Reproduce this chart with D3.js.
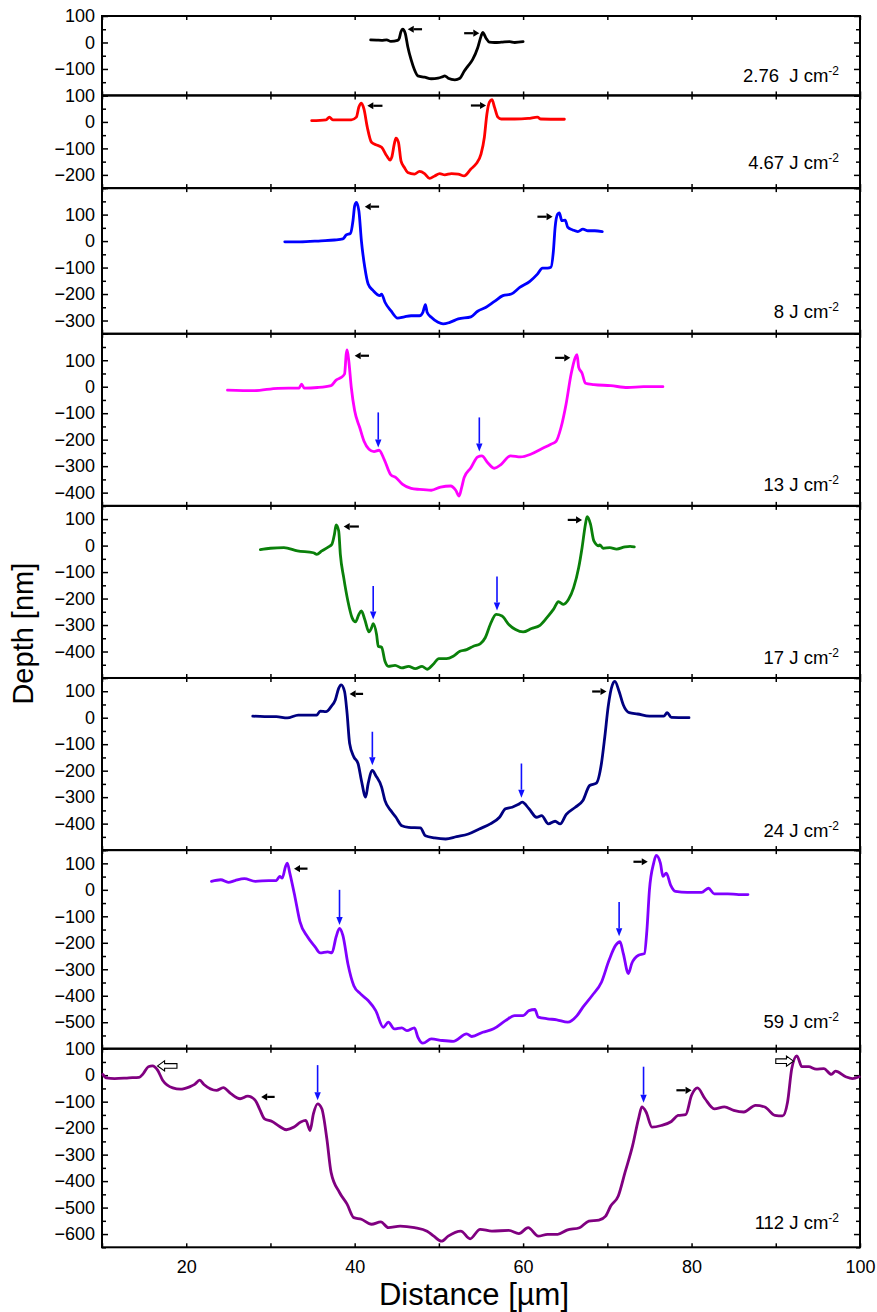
<!DOCTYPE html>
<html>
<head>
<meta charset="utf-8">
<script src="https://cdn.jsdelivr.net/npm/d3@7"></script>
<style>
  body { margin: 0; background: #fff; }
  text { font-family: "Liberation Sans", Arial, sans-serif; fill: #000; }
</style>
</head>
<body>
<div id="chart"></div>
<script>
// Depth profiles [distance µm, depth nm], one per fluence, top panel first
const p276 = [[41.9,10],[42.6,9],[43.2,8],[43.8,10],[44.3,4],[45.1,8],[45.3,16],[45.5,41],[45.7,50],[46.0,35],[46.3,-15],[46.7,-65],[47.1,-103],[47.5,-126],[48.3,-131],[49.1,-137],[49.9,-135],[50.4,-130],[50.7,-126],[51.1,-135],[51.9,-141],[52.5,-135],[53.0,-109],[53.4,-91],[54.0,-65],[54.6,-21],[55.0,23],[55.2,38],[55.6,16],[56.0,1],[56.6,0],[57.4,1],[58.4,3],[59.0,0],[60.0,3]];

const p467 = [[34.9,5],[36.6,8],[37.0,18],[37.4,8],[39.6,8],[40.2,18],[40.5,56],[40.8,71],[41.1,49],[41.5,-20],[42.0,-77],[42.6,-87],[43.2,-96],[43.8,-128],[44.2,-144],[44.4,-134],[44.7,-84],[44.9,-61],[45.2,-77],[45.5,-147],[45.9,-172],[46.3,-191],[47.1,-197],[47.7,-187],[48.3,-195],[48.9,-213],[49.5,-204],[50.1,-195],[50.7,-200],[51.5,-195],[52.3,-197],[53.0,-204],[53.8,-178],[54.4,-159],[55.0,-122],[55.4,-58],[55.7,30],[56.0,75],[56.3,84],[56.6,56],[57.0,18],[57.4,11],[59.0,11],[60.6,13],[61.7,18],[62.1,11],[64.9,10]];

const p8 = [[31.7,-3],[33.5,-3],[36.0,1],[37.6,4],[38.6,8],[39.0,23],[39.5,29],[39.8,77],[40.0,133],[40.2,146],[40.5,114],[40.8,1],[41.2,-99],[41.6,-162],[42.2,-187],[43.0,-206],[43.2,-200],[43.6,-231],[44.3,-263],[45.1,-291],[45.9,-286],[46.7,-282],[47.7,-282],[48.1,-269],[48.4,-240],[48.6,-269],[49.1,-288],[49.9,-307],[50.5,-313],[51.3,-307],[52.3,-294],[53.8,-286],[54.6,-265],[55.6,-250],[56.6,-228],[57.6,-206],[58.6,-200],[59.6,-175],[60.8,-152],[61.7,-125],[62.3,-102],[62.9,-102],[63.3,-99],[63.6,-36],[63.8,52],[64.1,102],[64.3,106],[64.6,77],[65.0,79],[65.3,52],[65.9,42],[66.5,36],[67.1,45],[67.7,39],[68.5,39],[69.4,36]];

const p13 = [[24.9,-13],[28.1,-15],[30.9,-6],[33.4,-5],[33.7,10],[34.0,-5],[35.6,-3],[37.2,4],[37.8,25],[38.4,35],[38.8,48],[39.0,124],[39.1,139],[39.3,98],[39.6,-3],[40.0,-91],[40.6,-154],[41.1,-205],[41.7,-236],[42.3,-245],[42.9,-240],[43.5,-274],[44.3,-333],[44.9,-343],[45.7,-369],[46.7,-384],[47.7,-388],[49.1,-391],[50.2,-379],[51.4,-375],[52.0,-391],[52.4,-413],[52.7,-381],[53.0,-343],[53.8,-306],[54.6,-265],[55.1,-261],[55.8,-287],[56.6,-308],[57.4,-293],[58.5,-261],[59.7,-265],[60.9,-255],[62.1,-236],[63.3,-217],[63.9,-207],[64.5,-154],[65.1,-66],[65.7,48],[66.2,111],[66.4,121],[66.6,73],[67.0,51],[67.4,13],[68.4,8],[70.4,4],[72.4,-3],[74.3,0],[76.6,0]];

const p17 = [[28.8,-15],[30.0,-10],[31.6,-8],[33.2,-20],[35.1,-27],[35.5,-33],[36.1,-20],[36.9,-5],[37.3,5],[37.6,43],[37.8,78],[38.1,56],[38.3,-33],[38.7,-121],[39.2,-210],[39.7,-273],[40.1,-288],[40.5,-260],[40.8,-247],[41.2,-279],[41.7,-326],[42.0,-311],[42.2,-295],[42.6,-336],[42.8,-380],[43.2,-384],[43.6,-437],[44.0,-456],[44.8,-452],[45.6,-462],[46.4,-456],[47.2,-465],[48.0,-456],[48.6,-467],[49.3,-449],[50.0,-427],[50.9,-427],[51.7,-418],[52.5,-399],[53.3,-393],[54.1,-380],[54.9,-371],[55.5,-348],[56.1,-298],[56.8,-260],[57.5,-266],[58.3,-298],[59.1,-317],[60.0,-326],[61.0,-313],[62.0,-301],[62.8,-273],[63.6,-241],[64.2,-212],[64.8,-222],[65.4,-203],[66.0,-159],[66.6,-83],[67.0,-8],[67.4,81],[67.6,109],[68.0,81],[68.4,18],[69.0,-1],[69.1,3],[69.5,-10],[70.3,-8],[71.1,-13],[72.1,-5],[72.7,-3],[73.2,-5]];

const p24 = [[27.9,6],[29.3,4],[30.7,4],[32.0,-1],[33.3,10],[35.5,10],[35.9,25],[36.6,23],[37.2,42],[37.7,67],[38.1,111],[38.4,124],[38.8,99],[39.1,16],[39.4,-97],[39.9,-148],[40.4,-173],[40.8,-237],[41.3,-300],[41.6,-249],[42.1,-199],[42.5,-218],[43.2,-262],[43.6,-313],[44.3,-351],[44.9,-376],[45.6,-408],[46.4,-414],[47.8,-416],[48.4,-446],[49.5,-454],[50.8,-458],[52.1,-449],[53.5,-439],[54.8,-420],[56.1,-401],[57.2,-376],[57.9,-344],[58.7,-338],[59.4,-328],[59.9,-319],[60.7,-344],[61.6,-376],[62.2,-370],[63.0,-401],[63.8,-391],[64.4,-401],[65.1,-366],[66.2,-338],[67.1,-313],[67.9,-256],[68.7,-247],[69.3,-173],[69.7,-72],[70.1,42],[70.6,124],[70.9,137],[71.4,99],[71.9,48],[72.6,19],[73.6,14],[75.0,6],[76.7,6],[77.1,19],[77.6,1],[79.7,0]];

const p59 = [[23.0,32],[24.1,38],[25.0,28],[25.8,35],[26.9,42],[28.2,32],[29.8,35],[30.7,35],[31.1,51],[31.4,44],[31.8,89],[32.0,101],[32.3,63],[32.9,-25],[33.5,-120],[34.4,-177],[35.3,-215],[35.9,-238],[36.8,-234],[37.3,-238],[37.8,-177],[38.2,-146],[38.6,-172],[39.2,-280],[39.9,-362],[40.7,-393],[41.6,-418],[42.5,-456],[43.4,-519],[44.0,-500],[44.7,-525],[45.6,-521],[46.2,-532],[47.1,-521],[47.5,-556],[48.1,-579],[49.1,-563],[50.4,-569],[51.7,-572],[53.3,-544],[53.9,-554],[55.2,-538],[56.5,-525],[57.9,-494],[59.0,-475],[60.0,-475],[60.7,-456],[61.4,-452],[61.8,-481],[62.9,-487],[64.0,-491],[65.3,-500],[66.4,-475],[67.1,-443],[68.2,-399],[69.3,-349],[70.2,-266],[71.0,-209],[71.5,-196],[71.9,-241],[72.5,-316],[72.9,-278],[73.7,-247],[74.4,-241],[74.7,-152],[75.0,0],[75.5,101],[75.8,130],[76.3,101],[76.6,51],[77.0,63],[77.5,19],[78.1,-6],[79.5,-10],[81.2,-10],[82.0,6],[82.7,-15],[84.3,-15],[85.6,-18],[86.7,-18]];

const p112 = [[10.1,3],[10.5,-10],[11.5,-13],[13.2,-10],[14.4,-8],[14.9,6],[15.5,32],[16.0,35],[16.6,19],[17.2,-19],[18.4,-48],[19.3,-53],[20.4,-44],[21.0,-35],[21.6,-19],[22.1,-35],[23.6,-57],[24.4,-47],[25.3,-70],[26.4,-89],[27.3,-79],[28.2,-95],[28.7,-127],[29.3,-165],[30.2,-175],[31.0,-192],[31.9,-206],[32.8,-196],[33.6,-177],[34.2,-171],[34.7,-209],[35.1,-146],[35.6,-108],[36.1,-127],[36.7,-241],[37.2,-367],[38.2,-443],[39.1,-487],[39.9,-538],[40.8,-544],[42.0,-563],[43.1,-554],[44.0,-576],[45.4,-570],[47.1,-576],[48.6,-589],[49.4,-608],[50.3,-627],[51.1,-608],[52.6,-589],[53.7,-618],[54.9,-582],[56.3,-589],[58.3,-586],[59.5,-598],[60.6,-576],[61.8,-608],[62.9,-601],[64.1,-601],[65.2,-585],[66.7,-576],[67.8,-551],[69.0,-547],[69.8,-532],[70.4,-494],[71.3,-456],[72.1,-367],[73.0,-266],[73.7,-165],[74.1,-120],[74.6,-139],[75.3,-196],[76.4,-190],[77.6,-175],[78.4,-152],[79.3,-149],[80.0,-76],[80.7,-48],[81.6,-89],[82.7,-127],[83.9,-120],[85.0,-133],[86.2,-139],[87.6,-114],[88.7,-120],[89.9,-152],[90.8,-154],[91.4,-101],[91.9,25],[92.5,73],[93.1,32],[93.9,32],[94.8,23],[95.7,25],[96.6,3],[97.1,15],[98.3,-6],[99.1,-13],[99.9,-6]];

const profiles = [p276, p467, p8, p13, p17, p24, p59, p112];
const fluences = ["2.76\u00a0 J cm", "4.67 J cm", "8 J cm", "13 J cm", "17 J cm", "24 J cm", "59 J cm", "112 J cm"];
const yDomains = [[-200,100],[-250,100],[-350,200],[-450,200],[-500,150],[-500,150],[-600,150],[-650,100]];
const yTickLabels = [
  [100,0,-100],
  [100,0,-100,-200],
  [100,0,-100,-200,-300],
  [100,0,-100,-200,-300,-400],
  [100,0,-100,-200,-300,-400],
  [100,0,-100,-200,-300,-400],
  [100,0,-100,-200,-300,-400,-500],
  [100,0,-100,-200,-300,-400,-500,-600]
];
const xDomain = [10, 100];
const xTicks = [10,20,30,40,50,60,70,80,90,100];
const xTickLabels = [20,40,60,80,100];

// arrows: [panel, tail x, head x, depth]
const blackArrows = [
  [0,48.0,46.3,50],[0,53.0,54.8,35],
  [1,43.3,41.5,61],[1,53.8,55.6,62],
  [2,42.9,41.2,130],[2,61.7,63.5,92],
  [3,41.7,40.0,117],[3,63.8,65.6,109],
  [4,40.5,38.7,72],[4,65.3,67.0,97],
  [5,41.0,39.4,90],[5,68.2,69.9,99],
  [6,34.4,32.8,80],[6,73.1,74.8,106],
  [7,30.5,28.9,-82],[7,78.2,80.0,-57]
];
const hollowArrows = [[7,18.9,16.6,35],[7,90.0,92.1,53]];
// blue markers: [panel, x, tail depth, tip depth]
const blueArrows = [
  [3,42.8,-97,-230],[3,54.8,-116,-245],
  [4,42.2,-153,-279],[4,56.9,-117,-245],
  [5,42.1,-53,-180],[5,59.8,-173,-302],
  [6,38.2,0,-133],[6,71.4,-46,-175],
  [7,35.6,38,-95],[7,74.3,32,-104]
];

const lineColors = ["#000000","#ff0000","#0000ff","#ff00ff","#0a800a","#000080","#8000ff","#800080"];
const labelOffsets = [13.5, 19, 15.5, 15, 14, 13, 21, 18];

const margin = { top: 16, right: 17, bottom: 64.7, left: 102 },
  totalW = 877, totalH = 1312,
  width = totalW - margin.left - margin.right,
  height = totalH - margin.top - margin.bottom;

const svg = d3.select("#chart")
  .append("svg")
  .attr("width", totalW)
  .attr("height", totalH)
  .append("g")
  .attr("transform", `translate(${margin.left}, ${margin.top})`);

const x = d3.scaleLinear().domain(xDomain).range([0, width]);

// each panel gets height proportional to its depth span
const spans = yDomains.map(d => d[1] - d[0]);
const k = height / d3.sum(spans);
let offset = 0;
const panels = yDomains.map((dom, i) => {
  const h = spans[i] * k;
  const p = { top: offset, h: h, y: d3.scaleLinear().domain(dom).range([offset + h, offset]) };
  offset += h;
  return p;
});

const line = d3.line().curve(d3.curveMonotoneX);

panels.forEach((p, i) => {
  const y = p.y;
  const dom = yDomains[i];
  const g = svg.append("g");

  const major = d3.range(Math.ceil(dom[0] / 100) * 100, dom[1] + 1, 100);
  const minor = d3.range(Math.ceil(dom[0] / 50) * 50, dom[1] + 1, 50).filter(v => v % 100 !== 0);

  // inward ticks on left and right
  [[0, 1], [width, -1]].forEach(([ax, dir]) => {
    g.append("g")
      .attr("transform", `translate(${ax},0)`)
      .call(dir > 0 ? d3.axisRight(y).tickValues(major).tickSize(6).tickFormat("")
                    : d3.axisLeft(y).tickValues(major).tickSize(6).tickFormat(""))
      .call(s => s.select(".domain").remove())
      .selectAll("line").attr("stroke-width", 1.5);
    g.append("g")
      .attr("transform", `translate(${ax},0)`)
      .call(dir > 0 ? d3.axisRight(y).tickValues(minor).tickSize(4).tickFormat("")
                    : d3.axisLeft(y).tickValues(minor).tickSize(4).tickFormat(""))
      .call(s => s.select(".domain").remove())
      .selectAll("line").attr("stroke-width", 1.5);
  });

  // inward x ticks on top and bottom edges
  g.append("g")
    .attr("transform", `translate(0,${p.top})`)
    .call(d3.axisBottom(x).tickValues(xTicks).tickSize(4).tickFormat(""))
    .call(s => s.select(".domain").remove())
    .selectAll("line").attr("stroke-width", 1.5);
  g.append("g")
    .attr("transform", `translate(0,${p.top + p.h})`)
    .call(d3.axisTop(x).tickValues(xTicks).tickSize(4).tickFormat(""))
    .call(s => s.select(".domain").remove())
    .selectAll("line").attr("stroke-width", 1.5);

  // y tick labels
  g.append("g")
    .call(d3.axisLeft(y).tickValues(yTickLabels[i]).tickSize(0).tickPadding(7))
    .call(s => s.select(".domain").remove())
    .selectAll("text")
    .style("font-size", "18px")
    .attr("font-family", null);

  // frame
  g.append("rect")
    .attr("x", 0).attr("y", p.top)
    .attr("width", width).attr("height", p.h)
    .attr("fill", "none").attr("stroke", "#000").attr("stroke-width", 2);

  // profile
  g.append("path")
    .datum(profiles[i].map(d => [x(d[0]), y(d[1])]))
    .attr("d", line)
    .attr("fill", "none")
    .attr("stroke", lineColors[i])
    .attr("stroke-width", 2.8)
    .attr("stroke-linejoin", "round")
    .attr("stroke-linecap", "round");

  // fluence label
  const t = g.append("text")
    .attr("x", width - 21)
    .attr("y", p.top + p.h - labelOffsets[i])
    .attr("text-anchor", "end")
    .style("font-size", "18.5px");
  t.append("tspan").text(fluences[i]);
  t.append("tspan").attr("dy", -7).style("font-size", "12px").text("-2");
});

// black filled arrows
blackArrows.forEach(([pi, x0, x1, v]) => {
  const y = panels[pi].y(v);
  const a = x(x0), b = x(x1);
  const dir = Math.sign(b - a);
  const hl = 6, hw = 3.6;
  svg.append("line")
    .attr("x1", a).attr("y1", y)
    .attr("x2", b - dir * hl).attr("y2", y)
    .attr("stroke", "#000").attr("stroke-width", 2.2);
  svg.append("path")
    .attr("d", `M${b},${y}L${b - dir * hl},${y - hw}L${b - dir * hl},${y + hw}Z`)
    .attr("fill", "#000");
});

// hollow block arrows
hollowArrows.forEach(([pi, x0, x1, v]) => {
  const y = panels[pi].y(v);
  const a = x(x0), b = x(x1);
  const dir = Math.sign(b - a);
  const hl = 7, sw = 2.3, hw = 5;
  const n = b - dir * hl;
  svg.append("path")
    .attr("d", `M${a},${y - sw}L${n},${y - sw}L${n},${y - hw}L${b},${y}L${n},${y + hw}L${n},${y + sw}L${a},${y + sw}Z`)
    .attr("fill", "#fff").attr("stroke", "#000").attr("stroke-width", 1.1);
});

// blue vertical markers
blueArrows.forEach(([pi, xv, v0, v1]) => {
  const xx = x(xv);
  const y0 = panels[pi].y(v0), y1 = panels[pi].y(v1);
  const hl = 8, hw = 3.2;
  svg.append("line")
    .attr("x1", xx).attr("y1", y0)
    .attr("x2", xx).attr("y2", y1 - hl)
    .attr("stroke", "#1010ff").attr("stroke-width", 1.6);
  svg.append("path")
    .attr("d", `M${xx},${y1}L${xx - hw},${y1 - hl}L${xx + hw},${y1 - hl}Z`)
    .attr("fill", "#1010ff");
});

// bottom x labels
svg.append("g")
  .attr("transform", `translate(0,${height})`)
  .call(d3.axisBottom(x).tickValues(xTickLabels).tickSize(0).tickPadding(13))
  .call(s => s.select(".domain").remove())
  .selectAll("text")
  .style("font-size", "18px")
  .attr("font-family", null);

// axis titles
svg.append("text")
  .attr("x", width / 2 - 7)
  .attr("y", height + 58)
  .attr("text-anchor", "middle")
  .style("font-size", "31px")
  .text("Distance [\u00b5m]");

svg.append("text")
  .attr("transform", `translate(${-margin.left + 33},${height / 2 + 2})rotate(-90)`)
  .attr("text-anchor", "middle")
  .style("font-size", "29px")
  .text("Depth [nm]");
</script>
</body>
</html>
